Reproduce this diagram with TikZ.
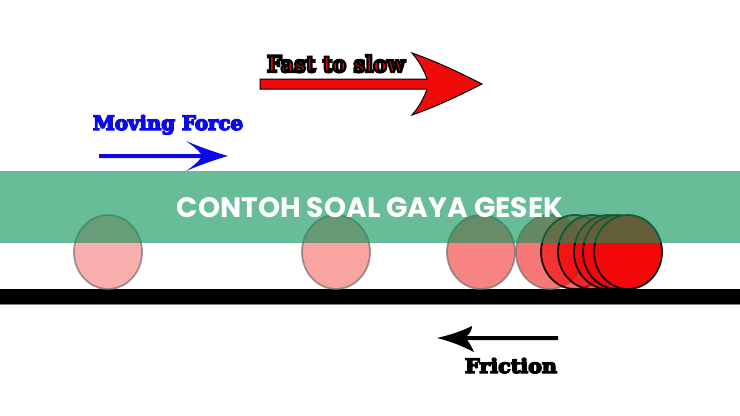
\documentclass[tikz,border=0pt]{standalone}
\usepackage{fontspec}
\usepackage{graphicx}
\newfontfamily\cooper{DejaVu Serif}
\newfontfamily\bandfont{Poppins}
\definecolor{ballred}{RGB}{242,8,8}
\definecolor{bandgreen}{RGB}{13,148,89}
\definecolor{arrowred}{RGB}{240,10,10}
\definecolor{forceblue}{RGB}{10,10,235}
\newcommand{\strokedtext}[1]{\special{pdf:literal direct 0 0 0 RG 2 Tr 1.1 w}#1\special{pdf:literal direct 0 Tr}}
\newcommand{\heavytext}[1]{\special{pdf:literal direct 2 Tr 0.7 w}#1\special{pdf:literal direct 0 Tr}}
\tikzset{
  ball/.style={draw, line width=1.8bp, fill=ballred},
  faint/.style={ball, draw=black!55, fill opacity=#1, draw opacity=0.7},
  strong/.style={ball, draw=black, fill opacity=#1, draw opacity=0.9},
  lbl/.style={inner sep=0pt, anchor=base},
}
\begin{document}
\begin{tikzpicture}[x=1bp,y=-1bp]
\useasboundingbox (0,0) rectangle (740,415);
\fill[white] (0,0) rectangle (740,415);
% ground
\fill[black] (0,289) rectangle (740,304);
\draw[black!50, line width=0.6bp] (0,304) -- (740,304);
% balls
\path[faint=0.32] (108,252) ellipse [x radius=34, y radius=37];
\path[faint=0.37] (336,252) ellipse [x radius=34, y radius=37];
\path[faint=0.5] (481,252) ellipse [x radius=34, y radius=37];
\path[faint=0.55] (550,252) ellipse [x radius=34, y radius=37];
\path[strong=0.6] (575,252) ellipse [x radius=34, y radius=37];
\path[strong=0.7] (592,252) ellipse [x radius=34, y radius=37];
\path[strong=0.8] (608,252) ellipse [x radius=34, y radius=37];
\path[strong=0.9] (617,252) ellipse [x radius=34, y radius=37];
\path[strong=1] (628,252) ellipse [x radius=34, y radius=37];
% blue moving force arrow
\fill[forceblue] (99,154) -- (201,154) .. controls (197,149) and (192,145) .. (186,141)
  .. controls (200,147) and (214,152) .. (228,156)
  .. controls (214,160) and (200,165) .. (186,171)
  .. controls (192,167) and (197,163) .. (201,158) -- (99,158) -- cycle;
\node[lbl, text=forceblue] (mf) at (168,130) {\resizebox{150bp}{15bp}{\cooper\bfseries\heavytext{Moving Force}}};
% band
\fill[bandgreen, fill opacity=0.62] (0,171) rectangle (740,243);
\node[lbl, text=white] (title) at (370,217) {\resizebox{386bp}{20bp}{\bandfont\bfseries CONTOH SOAL GAYA GESEK}};
% red fast to slow arrow
\filldraw[fill=arrowred, draw=black, line width=1bp]
  (260,79) -- (427,79) .. controls (424,70) and (419,61) .. (412,53)
  .. controls (438,62) and (462,74) .. (482,84)
  .. controls (462,94) and (438,106) .. (412,115)
  .. controls (419,107) and (424,98) .. (427,89) -- (260,89) -- cycle;
\node[lbl, text=arrowred] (fs) at (336,72) {\resizebox{138bp}{17bp}{\cooper\bfseries\strokedtext{Fast to slow}}};
% friction arrow
\fill[black] (558,336) -- (467,336) .. controls (470,333) and (472,330) .. (472,326)
  .. controls (462,331) and (450,335) .. (437,338)
  .. controls (450,341) and (462,346) .. (474,352)
  .. controls (472,348) and (470,343) .. (467,340) -- (558,340) -- cycle;
\node[lbl, text=black] (fr) at (511,373) {\resizebox{92bp}{15bp}{\cooper\bfseries\heavytext{Friction}}};
\end{tikzpicture}
\end{document}
